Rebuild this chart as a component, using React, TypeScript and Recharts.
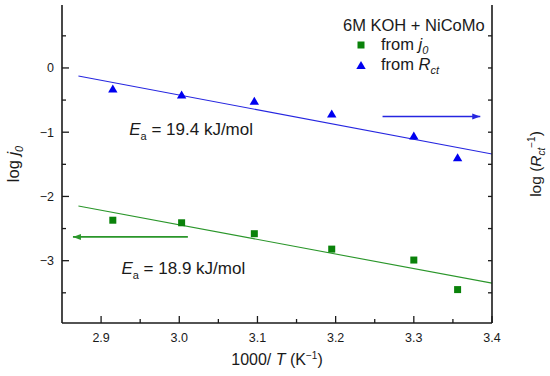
import React from "react";
import {
  ComposedChart,
  XAxis,
  YAxis,
  Line,
  Scatter,
  Legend,
  ReferenceDot,
} from "recharts";

// 1000/T for the six temperatures
const invT = [2.915, 3.003, 3.096, 3.195, 3.3, 3.356];
const logJ0 = [-2.37, -2.41, -2.58, -2.82, -2.99, -3.45];
const logRct = [-0.32, -0.415, -0.51, -0.71, -1.05, -1.39];

// fitted lines (end points)
const fitX = [2.871, 3.4];
const fitJ0 = [-2.15, -3.35];
const fitRct = [-0.125, -1.34];

// arrows: [tail, head]
const arrowJ0X = [3.011, 2.864];
const arrowJ0Y = -2.63;
const arrowRctX = [3.26, 3.385];
const arrowRctY = -0.755;

// activation energy notes
const eaJ0 = "18.9";
const eaRct = "19.4";
const eaJ0At = { x: 2.926, y: -3.21 };
const eaRctAt = { x: 2.936, y: -1.05 };

const xTicks = [2.9, 2.95, 3.0, 3.05, 3.1, 3.15, 3.2, 3.25, 3.3, 3.35, 3.4];
const yTicks = [-3.5, -3, -2.5, -2, -1.5, -1, -0.5, 0, 0.5];
const xDomain = [2.85, 3.4];
const yDomain = [-3.97, 0.98];

const FONT = '"Liberation Sans", Arial, sans-serif';
const INK = "#1a1a1a";
const GREEN = "#0a820a";
const GREEN_LINE = "#2a962a";
const BLUE = "#0000f0";
const BLUE_LINE = "#2626e0";

const j0Points = invT.map((x, i) => ({ x, y: logJ0[i] }));
const rctPoints = invT.map((x, i) => ({ x, y: logRct[i] }));
const j0Fit = fitX.map((x, i) => ({ x, y: fitJ0[i] }));
const rctFit = fitX.map((x, i) => ({ x, y: fitRct[i] }));
const j0Arrow = arrowJ0X.map((x) => ({ x, y: arrowJ0Y }));
const rctArrow = arrowRctX.map((x) => ({ x, y: arrowRctY }));

const isMajorX = (v: number) => Math.abs(v * 10 - Math.round(v * 10)) < 1e-6;
const isMajorY = (v: number) => Math.abs(v - Math.round(v)) < 1e-6;
const fmtY = (v: number) => (v < 0 ? "\u2212" + Math.abs(v) : String(v));

function BottomTick(p: any) {
  const { x, y, payload } = p;
  const major = isMajorX(payload.value);
  return (
    <g>
      <line x1={x} x2={x} y1={y} y2={y - (major ? 7 : 4)} stroke={INK} strokeWidth={1.3} />
      {major && (
        <text x={x} y={y + 19} textAnchor="middle" fontSize={12.5} fill={INK} fontFamily={FONT}>
          {payload.value.toFixed(1)}
        </text>
      )}
    </g>
  );
}

function TopTick(p: any) {
  const { x, y, payload } = p;
  const major = isMajorX(payload.value);
  return <line x1={x} x2={x} y1={y} y2={y + (major ? 6 : 4)} stroke={INK} strokeWidth={1.3} />;
}

function LeftTick(p: any) {
  const { x, y, payload } = p;
  const major = isMajorY(payload.value);
  return (
    <g>
      <line x1={x} x2={x + (major ? 7 : 4)} y1={y} y2={y} stroke={INK} strokeWidth={1.3} />
      {major && (
        <text x={x - 8} y={y + 4.5} textAnchor="end" fontSize={12.5} fill={INK} fontFamily={FONT}>
          {fmtY(payload.value)}
        </text>
      )}
    </g>
  );
}

function RightTick(p: any) {
  const { x, y } = p;
  return <line x1={x} x2={x - 4} y1={y} y2={y} stroke={INK} strokeWidth={1.3} />;
}

const squareShape = (p: any) => (
  <rect x={p.cx - 3.5} y={p.cy - 3.5} width={7} height={7} fill={GREEN} />
);

const triangleShape = (p: any) => (
  <polygon
    points={`${p.cx},${p.cy - 4} ${p.cx - 4.7},${p.cy + 4} ${p.cx + 4.7},${p.cy + 4}`}
    fill={BLUE}
  />
);

const arrowHead = (dir: number, color: string) => (p: any) =>
  p.index === 1 ? (
    <polygon
      key={`h${p.index}`}
      points={`${p.cx},${p.cy} ${p.cx - dir * 8},${p.cy - 3} ${p.cx - dir * 8},${p.cy + 3}`}
      fill={color}
    />
  ) : (
    <g key={`t${p.index}`} />
  );

const eaNote = (value: string) => (p: any) => (
  <text x={p.cx} y={p.cy} fontSize={17} fill={INK} fontFamily={FONT}>
    <tspan fontStyle="italic">E</tspan>
    <tspan fontSize={11} dy={5}>a</tspan>
    <tspan dy={-5}>{` = ${value} kJ/mol`}</tspan>
  </text>
);

function LegendBox() {
  const row = { display: "flex", alignItems: "center", height: 20 } as const;
  const sub = { fontSize: 11, fontStyle: "italic", position: "relative", top: 4 } as const;
  return (
    <div style={{ fontFamily: FONT, fontSize: 16.5, lineHeight: "20px", color: INK, whiteSpace: "nowrap" }}>
      <div style={{ height: 20 }}>6M KOH + NiCoMo</div>
      <div style={row}>
        <svg width={38} height={20}>
          <rect x={14.5} y={6.5} width={7} height={7} fill={GREEN} />
        </svg>
        <span>
          from <i>j</i>
          <span style={sub}>0</span>
        </span>
      </div>
      <div style={row}>
        <svg width={38} height={20}>
          <polygon points="18,6 13.3,14 22.7,14" fill={BLUE} />
        </svg>
        <span>
          from <i>R</i>
          <span style={sub}>ct</span>
        </span>
      </div>
    </div>
  );
}

export default function App() {
  return (
    <div style={{ position: "absolute", left: 0, top: 0, width: 550, height: 376, background: "#fff" }}>
      <ComposedChart width={550} height={376} margin={{ top: 5, right: 18, bottom: 13, left: 22 }}>
        <XAxis
          xAxisId="b"
          type="number"
          dataKey="x"
          domain={xDomain}
          ticks={xTicks}
          interval={0}
          allowDataOverflow
          height={40}
          tickSize={0}
          tickMargin={0}
          tickLine={false}
          axisLine={{ stroke: INK, strokeWidth: 1.6 }}
          tick={(p: any) => <BottomTick {...p} />}
          label={(p: any) => {
            const vb = p.viewBox;
            return (
              <text x={vb.x + vb.width / 2} y={vb.y + 42} textAnchor="middle" fontSize={16} fill={INK} fontFamily={FONT}>
                1000/ <tspan fontStyle="italic">T</tspan> (K
                <tspan dy={-6} fontSize={10}>{"\u22121"}</tspan>
                <tspan dy={6}>)</tspan>
              </text>
            );
          }}
        />
        <XAxis
          xAxisId="t"
          orientation="top"
          type="number"
          dataKey="x"
          domain={xDomain}
          ticks={xTicks}
          interval={0}
          allowDataOverflow
          height={0}
          tickSize={0}
          tickMargin={0}
          tickLine={false}
          axisLine={{ stroke: INK, strokeWidth: 1.6 }}
          tick={(p: any) => <TopTick {...p} />}
        />
        <YAxis
          yAxisId="l"
          type="number"
          domain={yDomain}
          ticks={yTicks}
          interval={0}
          allowDataOverflow
          width={40}
          tickSize={0}
          tickMargin={0}
          tickLine={false}
          axisLine={{ stroke: INK, strokeWidth: 1.6 }}
          tick={(p: any) => <LeftTick {...p} />}
          label={(p: any) => {
            const vb = p.viewBox;
            const cx = vb.x - 3;
            const cy = vb.y + vb.height / 2;
            return (
              <text x={cx} y={cy} transform={`rotate(-90 ${cx} ${cy})`} textAnchor="middle" fontSize={16.5} fill={INK} fontFamily={FONT}>
                log <tspan fontStyle="italic">j</tspan>
                <tspan fontStyle="italic" fontSize={11} dy={4}>0</tspan>
              </text>
            );
          }}
        />
        <YAxis
          yAxisId="r"
          orientation="right"
          type="number"
          domain={yDomain}
          ticks={yTicks}
          interval={0}
          allowDataOverflow
          width={40}
          tickSize={0}
          tickMargin={0}
          tickLine={false}
          axisLine={{ stroke: INK, strokeWidth: 1.6 }}
          tick={(p: any) => <RightTick {...p} />}
          label={(p: any) => {
            const vb = p.viewBox;
            const cx = vb.x + 49;
            const cy = vb.y + vb.height / 2;
            return (
              <text x={cx} y={cy} transform={`rotate(-90 ${cx} ${cy})`} textAnchor="middle" fontSize={15.5} fill={INK} fontFamily={FONT}>
                log (<tspan fontStyle="italic">R</tspan>
                <tspan fontStyle="italic" fontSize={10} dy={4}>ct</tspan>
                <tspan fontSize={10} dy={-10}>{"\u22121"}</tspan>
                <tspan dy={6}>)</tspan>
              </text>
            );
          }}
        />

        <Line xAxisId="b" yAxisId="l" data={j0Fit} dataKey="y" type="linear" stroke={GREEN_LINE} strokeWidth={1.1} dot={false} legendType="none" isAnimationActive={false} />
        <Line xAxisId="b" yAxisId="r" data={rctFit} dataKey="y" type="linear" stroke={BLUE_LINE} strokeWidth={1.1} dot={false} legendType="none" isAnimationActive={false} />
        <Line xAxisId="b" yAxisId="l" data={j0Arrow} dataKey="y" type="linear" stroke={GREEN_LINE} strokeWidth={1.6} dot={arrowHead(-1, GREEN_LINE)} legendType="none" isAnimationActive={false} />
        <Line xAxisId="b" yAxisId="r" data={rctArrow} dataKey="y" type="linear" stroke={BLUE_LINE} strokeWidth={1.6} dot={arrowHead(1, BLUE_LINE)} legendType="none" isAnimationActive={false} />

        <Scatter xAxisId="b" yAxisId="l" name="from j0" data={j0Points} dataKey="y" fill={GREEN} shape={squareShape} isAnimationActive={false} />
        <Scatter xAxisId="b" yAxisId="r" name="from Rct" data={rctPoints} dataKey="y" fill={BLUE} shape={triangleShape} isAnimationActive={false} />

        <ReferenceDot xAxisId="b" yAxisId="r" x={eaRctAt.x} y={eaRctAt.y} r={0} shape={eaNote(eaRct)} />
        <ReferenceDot xAxisId="b" yAxisId="l" x={eaJ0At.x} y={eaJ0At.y} r={0} shape={eaNote(eaJ0)} />

        <Legend
          layout="vertical"
          align="center"
          verticalAlign="middle"
          content={() => <LegendBox />}
          wrapperStyle={{ position: "absolute", left: 343, top: 15, width: 160 }}
        />
      </ComposedChart>
    </div>
  );
}
